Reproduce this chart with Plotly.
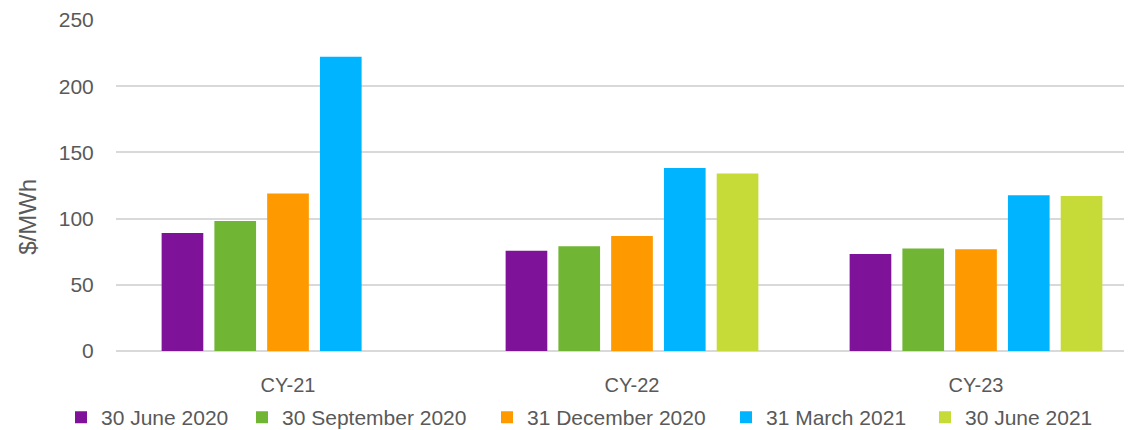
import plotly.graph_objects as go

categories = ["CY-21", "CY-22", "CY-23"]
series_names = ["30 June 2020", "30 September 2020", "31 December 2020", "31 March 2021", "30 June 2021"]
jun_2020 = [89.2, 75.7, 73.2]
sep_2020 = [98.2, 79.2, 77.4]
dec_2020 = [119.0, 86.9, 76.9]
mar_2021 = [222.2, 138.3, 117.7]
jun_2021 = [None, 134.0, 117.0]
series_values = [jun_2020, sep_2020, dec_2020, mar_2021, jun_2021]
colors = ["#7E1299", "#70B634", "#FF9900", "#00B4FF", "#C6DB37"]
y_ticks = [0, 50, 100, 150, 200, 250]

FONT = "Liberation Sans"
TXT = "#595959"

# page body has an 8px default margin; layout compensates so the plot lands where the reference has it
OFF = 8
FIG_H = 438
L, T = 116 - OFF, 18 - OFF
PLOT_H = 333
B = FIG_H - T - PLOT_H
PLOT_W = 1132 - L

legend_ids = ["legend", "legend2", "legend3", "legend4", "legend5"]
marker_centers = [84, 265, 510, 749, 948]  # window px (layout positions)

fig = go.Figure()
for name, vals, col, lid in zip(series_names, series_values, colors, legend_ids):
    fig.add_trace(go.Bar(
        name=name, x=categories, y=vals, legend=lid,
        marker=dict(color=col, line=dict(width=0)),
    ))

legend_y = -(418 - OFF - (T + PLOT_H)) / PLOT_H
legends = {}
for lid, c in zip(legend_ids, marker_centers):
    legends[lid] = dict(
        orientation="h", x=(c - 23 - OFF - L) / PLOT_W, xanchor="left",
        y=legend_y, yanchor="middle", itemwidth=30, bgcolor="rgba(0,0,0,0)",
        font=dict(family=FONT, size=21, color=TXT),
    )

fig.update_layout(
    width=1132, height=FIG_H,
    barmode="group", bargap=0.233, bargroupgap=0.21,
    plot_bgcolor="white", paper_bgcolor="white",
    margin=dict(l=L, r=0, t=T, b=B),
    font=dict(family=FONT, size=20, color=TXT),
    showlegend=True,
    xaxis=dict(range=[-0.5, -0.5 + PLOT_W / 344.0], showgrid=False, showline=False, zeroline=False,
               ticks="outside", ticklen=16, tickcolor="rgba(0,0,0,0)",
               tickfont=dict(family=FONT, size=20, color=TXT)),
    yaxis=dict(range=[0, 250], tickvals=y_ticks, showgrid=True, gridcolor="#D9D9D9",
               gridwidth=1.5, zeroline=True, zerolinecolor="#D9D9D9", zerolinewidth=1.5,
               showline=False, ticks="outside", ticklen=17, tickcolor="rgba(0,0,0,0)",
               ticklabeloverflow="allow",
               tickfont=dict(family=FONT, size=21, color=TXT)),
    annotations=[dict(text="$/MWh", xref="paper", yref="paper", x=0,
                      y=(T + PLOT_H - (216 - OFF)) / PLOT_H,
                      xshift=28 - 116, textangle=-90, showarrow=False,
                      xanchor="center", yanchor="middle",
                      font=dict(family=FONT, size=24, color=TXT))],
    **legends,
)

fig.write_html("out.html")
